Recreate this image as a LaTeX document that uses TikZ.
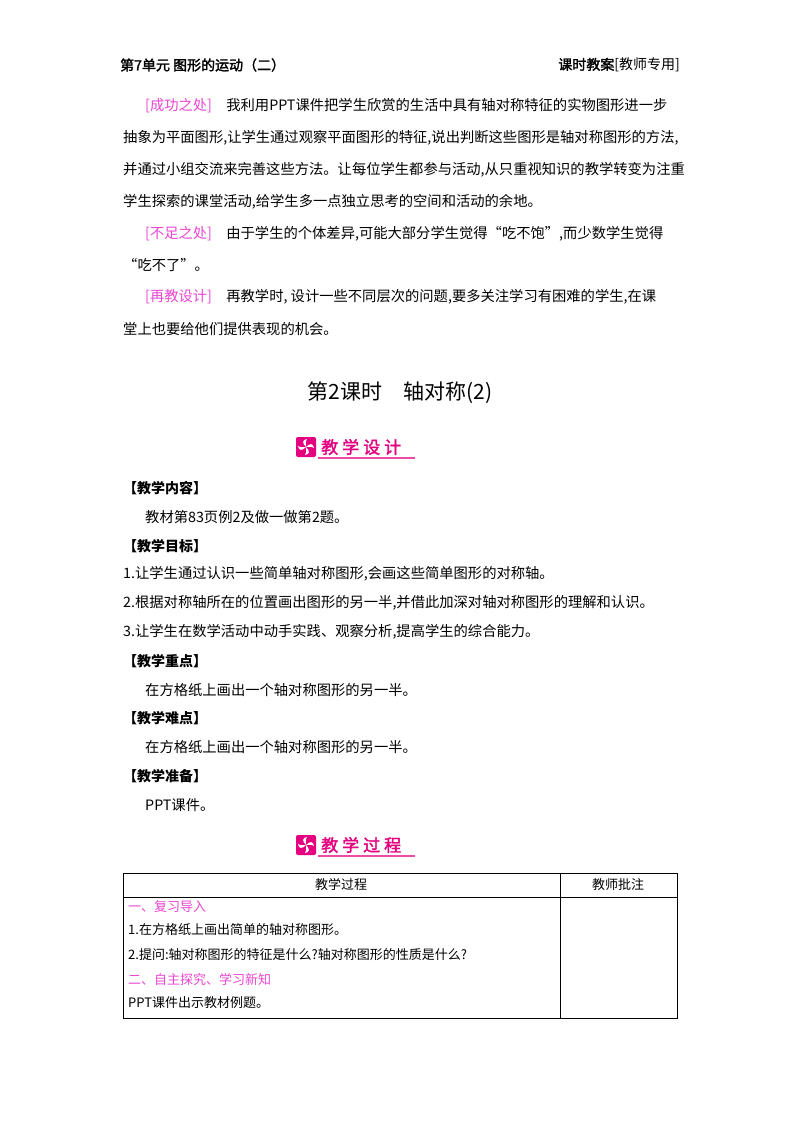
\documentclass[tikz,border=0pt]{standalone}
\usepackage{fontspec}
\setmainfont{Noto Sans CJK SC}
\newfontfamily\cjkb[FakeBold=2]{Noto Sans CJK SC}
\definecolor{pk}{RGB}{228,0,127}
\definecolor{lpk}{RGB}{235,70,210}
\begin{document}
\begin{tikzpicture}[x=1pt,y=-1pt,
  tx/.style={anchor=west,inner sep=0pt,font=\fontsize{14.3}{16}\selectfont},
  hd/.style={anchor=west,inner sep=0pt,font=\fontsize{14}{16}\selectfont\bfseries},
  badge/.style={inner sep=0pt}]
\useasboundingbox (0,0) rectangle (800,1132);
\fill[white] (0,0) rectangle (800,1132);
\node[tx,font=\fontsize{14}{15}\selectfont\cjkb] (h1) at (120,65) {第7单元\ 图形的运动（二）};
\node[tx,anchor=east,font=\fontsize{14}{15}\selectfont] (h2) at (680,65) {{\cjkb 课时教案}[教师专用]};
\node[tx] (p1) at (145,106) {\textcolor{lpk}{[成功之处]}\quad 我利用PPT课件把学生欣赏的生活中具有轴对称特征的实物图形进一步};
\node[tx] (p2) at (123,138) {抽象为平面图形,让学生通过观察平面图形的特征,说出判断这些图形是轴对称图形的方法,};
\node[tx] (p3) at (123,170) {并通过小组交流来完善这些方法。让每位学生都参与活动,从只重视知识的教学转变为注重};
\node[tx] (p4) at (123,202) {学生探索的课堂活动,给学生多一点独立思考的空间和活动的余地。};
\node[tx] (p5) at (145,234) {\textcolor{lpk}{[不足之处]}\quad 由于学生的个体差异,可能大部分学生觉得“吃不饱”,而少数学生觉得};
\node[tx] (p6) at (123,265) {“吃不了”。};
\node[tx] (p7) at (145,297) {\textcolor{lpk}{[再教设计]}\quad 再教学时,\ 设计一些不同层次的问题,要多关注学习有困难的学生,在课};
\node[tx] (p8) at (123,329) {堂上也要给他们提供表现的机会。};
\node[inner sep=0pt,font=\fontsize{21}{24}\selectfont] (title) at (400,393) {第2课时\quad 轴对称(2)};
% badges
\foreach \n/\y/\a/\b/\c/\d in {b1/447/教/学/设/计,b2/845/教/学/过/程}{
  \fill[pk,rounded corners=2pt] (296,\y-10) rectangle (316,\y+10);
  \foreach \r in {0,90,180,270}{\fill[white,rotate around={\r:(306,\y)}] (306,\y) .. controls (302,\y-4) and (302,\y-7) .. (307,\y-8) .. controls (305,\y-5) and (306,\y-2) .. (306,\y);}
  \draw[pk!70,line width=1.2pt] (318,\y+11) -- (415,\y+11);
  \node[anchor=west,inner sep=0pt,text=pk,font=\fontsize{17}{20}\selectfont\cjkb] (\n) at (321,\y) {\a\hspace{4pt}\b\hspace{4pt}\c\hspace{4pt}\d};
}
\node[hd] (s1) at (123,488) {【教学内容】};
\node[tx] (l1) at (145,517) {教材第83页例2及做一做第2题。};
\node[hd] (s2) at (123,546) {【教学目标】};
\node[tx] (l2) at (123,574) {1.让学生通过认识一些简单轴对称图形,会画这些简单图形的对称轴。};
\node[tx] (l3) at (123,603) {2.根据对称轴所在的位置画出图形的另一半,并借此加深对轴对称图形的理解和认识。};
\node[tx] (l4) at (123,632) {3.让学生在数学活动中动手实践、观察分析,提高学生的综合能力。};
\node[hd] (s3) at (123,661) {【教学重点】};
\node[tx] (l5) at (145,690) {在方格纸上画出一个轴对称图形的另一半。};
\node[hd] (s4) at (123,718) {【教学难点】};
\node[tx] (l6) at (145,747) {在方格纸上画出一个轴对称图形的另一半。};
\node[hd] (s5) at (123,776) {【教学准备】};
\node[tx] (l7) at (145,805) {PPT课件。};
% table
\draw[line width=0.8pt] (123,873) rectangle (677,1018);
\draw[line width=0.6pt] (123,897) -- (677,897);
\draw[line width=0.6pt] (560,873) -- (560,1018);
\node[inner sep=0pt,font=\fontsize{13}{15}\selectfont] (c1) at (341,885) {教学过程};
\node[inner sep=0pt,font=\fontsize{13}{15}\selectfont] (c2) at (618,885) {教师批注};
\node[tx,font=\fontsize{13}{15}\selectfont,text=lpk] (r1) at (128,907) {一、复习导入};
\node[tx,font=\fontsize{13}{15}\selectfont] (r2) at (128,930) {1.在方格纸上画出简单的轴对称图形。};
\node[tx,font=\fontsize{13}{15}\selectfont] (r3) at (128,955) {2.提问:轴对称图形的特征是什么?轴对称图形的性质是什么?};
\node[tx,font=\fontsize{13}{15}\selectfont,text=lpk] (r4) at (128,979) {二、自主探究、学习新知};
\node[tx,font=\fontsize{13}{15}\selectfont] (r5) at (128,1003) {PPT课件出示教材例题。};
\end{tikzpicture}
\end{document}
